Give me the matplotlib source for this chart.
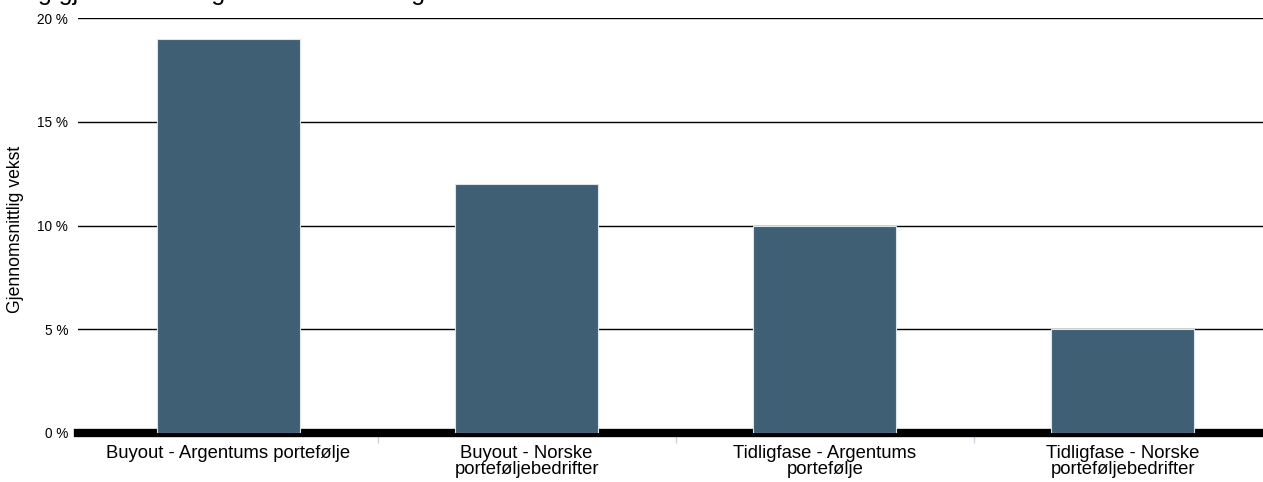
import numpy as np
import matplotlib.pyplot as plt
from matplotlib.ticker import FuncFormatter

plt.rcParams['font.family'] = ['Liberation Sans', 'DejaVu Sans']

categories = ['Buyout - Argentums portefølje',
              'Buyout - Norske\nporteføljebedrifter',
              'Tidligfase - Argentums\nportefølje',
              'Tidligfase - Norske\nporteføljebedrifter']
growth = [19.0, 12.0, 10.0, 5.0]
yticks = [0, 5, 10, 15, 20]

W, H = 1263, 482
fig = plt.figure(figsize=(W / 100, H / 100), dpi=100)
ax = fig.add_axes([78 / W, 1 - 433 / H, 1185 / W, 415 / H])

x = np.arange(len(categories))
ax.bar(x, growth, width=0.48, color='#3F5F75', edgecolor='#dde4ea', linewidth=0.8, zorder=3)

ax.set_xlim(-0.505, 3.47)
ax.set_ylim(0, 20)
ax.set_yticks(yticks)
ax.yaxis.set_major_formatter(FuncFormatter(lambda v, p: f'{v:.0f} %'))
ax.grid(axis='y', color='black', linewidth=1.0, zorder=0)
ax.axhline(0, color='black', linewidth=6, zorder=2, clip_on=False)

ax.set_xticks(x)
ax.set_xticklabels(categories, fontsize=13.3, linespacing=0.9)
ax.set_xticks(x[:-1] + 0.5, minor=True)
ax.tick_params(axis='x', which='major', length=0, pad=9)
ax.tick_params(axis='x', which='minor', length=7, color='#c8d4e0', width=1)
ax.tick_params(axis='y', length=0, labelsize=9.8, pad=7)

for s in ax.spines.values():
    s.set_visible(False)

ax.set_ylabel('Gjennomsnittlig vekst', fontsize=12.7)
ax.yaxis.set_label_coords(-54 / 1185, (433 - 229) / 415)

# title sits above the top edge, only the descenders show
fig.text(2 / W, 1.0, 'Årlig gjennomsnittlig vekst i omsetning',
         fontsize=18, va='baseline', ha='left')

fig.savefig('out.png', dpi=100)
